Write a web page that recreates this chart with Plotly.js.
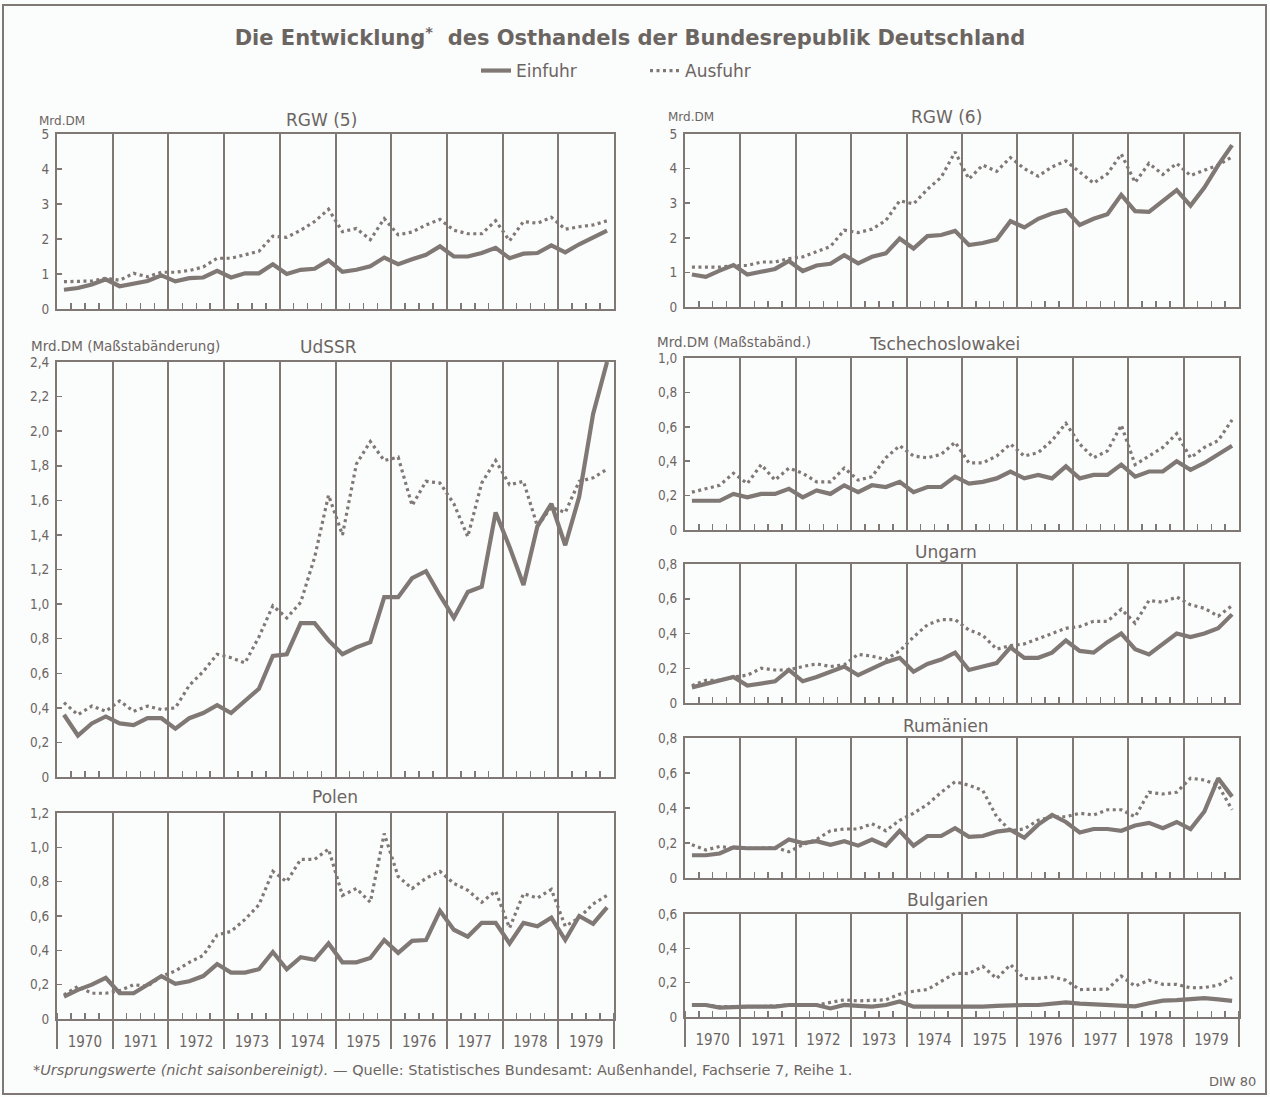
<!DOCTYPE html>
<html><head><meta charset="utf-8">
<script src="https://cdn.plot.ly/plotly-3.0.1.min.js"></script>
<style>html,body{margin:0;padding:0;background:#fbfcfc;}#chart{width:1270px;height:1097px;}</style>
</head><body><div id="chart"></div>
<script>
// ---- categories ----
const years = [1970,1971,1972,1973,1974,1975,1976,1977,1978,1979];
const quarters = ['I','II','III','IV'];
const yearLabels = ['1970','1971','1972','1973','1974','1975','1976','1977','1978','1979'];

// ---- series (Mrd. DM, quarterly) ----
const rgw5_ein = [0.55,0.60,0.70,0.85, 0.65,0.72,0.80,0.96, 0.79,0.88,0.90,1.09, 0.90,1.02,1.02,1.28, 1.00,1.12,1.15,1.39, 1.06,1.12,1.22,1.47, 1.28,1.42,1.55,1.79, 1.50,1.50,1.60,1.75, 1.45,1.58,1.60,1.82, 1.62,1.85,2.05,2.24];
const rgw5_aus = [0.78,0.80,0.80,0.88, 0.82,1.02,0.92,1.05, 1.05,1.10,1.20,1.45, 1.45,1.55,1.65,2.08, 2.05,2.25,2.50,2.85, 2.21,2.30,1.98,2.58, 2.12,2.20,2.40,2.56, 2.25,2.15,2.15,2.52, 1.95,2.50,2.45,2.62, 2.28,2.35,2.40,2.52];
const rgw6_ein = [0.94,0.87,1.05,1.21, 0.94,1.02,1.10,1.33, 1.04,1.20,1.25,1.50, 1.26,1.45,1.55,1.98, 1.69,2.05,2.08,2.20, 1.79,1.85,1.95,2.48, 2.30,2.55,2.70,2.80, 2.37,2.55,2.68,3.24, 2.77,2.75,3.05,3.38, 2.93,3.45,4.10,4.68];
const rgw6_aus = [1.15,1.15,1.15,1.20, 1.20,1.30,1.30,1.40, 1.45,1.60,1.75,2.22, 2.15,2.25,2.50,3.07, 2.98,3.40,3.75,4.48, 3.70,4.10,3.92,4.32, 4.00,3.78,4.05,4.22, 3.90,3.58,3.85,4.42, 3.60,4.15,3.83,4.15, 3.80,3.95,4.10,4.34];
const udssr_ein = [0.36,0.24,0.31,0.35, 0.31,0.30,0.34,0.34, 0.28,0.34,0.37,0.415, 0.37,0.44,0.51,0.70, 0.71,0.89,0.89,0.79, 0.71,0.75,0.78,1.04, 1.04,1.15,1.19,1.05, 0.92,1.07,1.10,1.53, 1.33,1.11,1.45,1.58, 1.34,1.62,2.10,2.40];
const udssr_aus = [0.43,0.36,0.41,0.38, 0.44,0.38,0.41,0.39, 0.40,0.53,0.61,0.71, 0.69,0.66,0.81,0.99, 0.92,1.01,1.27,1.63, 1.40,1.81,1.94,1.83, 1.85,1.57,1.71,1.70, 1.58,1.39,1.70,1.83, 1.69,1.71,1.45,1.56, 1.53,1.71,1.73,1.78];
const polen_ein = [0.13,0.17,0.20,0.24, 0.15,0.15,0.20,0.25, 0.205,0.22,0.25,0.32, 0.27,0.27,0.29,0.39, 0.29,0.36,0.345,0.44, 0.33,0.33,0.355,0.46, 0.385,0.455,0.46,0.63, 0.52,0.48,0.56,0.56, 0.44,0.56,0.54,0.59, 0.46,0.60,0.555,0.65];
const polen_aus = [0.14,0.19,0.15,0.15, 0.165,0.20,0.19,0.25, 0.28,0.33,0.37,0.49, 0.51,0.58,0.665,0.86, 0.80,0.93,0.93,0.99, 0.72,0.76,0.68,1.08, 0.83,0.76,0.82,0.86, 0.79,0.75,0.68,0.745, 0.53,0.73,0.705,0.755, 0.54,0.59,0.67,0.72];
const tsch_ein = [0.17,0.17,0.17,0.21, 0.19,0.21,0.21,0.24, 0.19,0.23,0.21,0.26, 0.22,0.26,0.25,0.28, 0.22,0.25,0.25,0.31, 0.27,0.28,0.30,0.34, 0.30,0.32,0.30,0.37, 0.30,0.32,0.32,0.38, 0.31,0.34,0.34,0.40, 0.35,0.39,0.44,0.49];
const tsch_aus = [0.22,0.24,0.26,0.33, 0.27,0.38,0.29,0.36, 0.33,0.28,0.28,0.36, 0.29,0.31,0.42,0.49, 0.43,0.42,0.44,0.51, 0.39,0.39,0.43,0.50, 0.43,0.45,0.52,0.62, 0.50,0.42,0.46,0.61, 0.38,0.43,0.48,0.56, 0.42,0.48,0.52,0.64];
const ungarn_ein = [0.09,0.11,0.13,0.15, 0.10,0.11,0.125,0.19, 0.125,0.15,0.18,0.21, 0.16,0.20,0.235,0.26, 0.18,0.225,0.25,0.29, 0.19,0.21,0.23,0.32, 0.26,0.26,0.29,0.36, 0.30,0.29,0.35,0.40, 0.31,0.28,0.34,0.40, 0.38,0.40,0.43,0.51];
const ungarn_aus = [0.10,0.13,0.13,0.15, 0.16,0.20,0.19,0.19, 0.21,0.225,0.21,0.22, 0.28,0.27,0.25,0.30, 0.38,0.45,0.48,0.48, 0.42,0.39,0.31,0.33, 0.34,0.37,0.40,0.43, 0.44,0.47,0.47,0.54, 0.46,0.59,0.58,0.61, 0.565,0.545,0.50,0.56];
const rum_ein = [0.13,0.13,0.14,0.175, 0.17,0.17,0.17,0.22, 0.20,0.21,0.19,0.21, 0.185,0.22,0.185,0.27, 0.185,0.24,0.24,0.285, 0.235,0.24,0.265,0.275, 0.23,0.305,0.36,0.32, 0.26,0.28,0.28,0.27, 0.30,0.315,0.285,0.32, 0.28,0.38,0.57,0.465];
const rum_aus = [0.19,0.16,0.18,0.17, 0.17,0.17,0.175,0.15, 0.19,0.22,0.27,0.28, 0.28,0.31,0.27,0.33, 0.37,0.42,0.49,0.55, 0.53,0.50,0.35,0.27, 0.28,0.33,0.35,0.35, 0.37,0.36,0.39,0.39, 0.35,0.49,0.48,0.49, 0.57,0.56,0.53,0.39];
const bulg_ein = [0.07,0.07,0.055,0.06, 0.06,0.06,0.06,0.07, 0.07,0.07,0.05,0.07, 0.065,0.06,0.07,0.09, 0.06,0.06,0.06,0.06, 0.058,0.06,0.065,0.07, 0.07,0.07,0.075,0.085, 0.078,0.075,0.068,0.07, 0.062,0.08,0.095,0.098, 0.105,0.11,0.103,0.094];
const bulg_aus = [0.07,0.07,0.06,0.06, 0.06,0.06,0.065,0.07, 0.07,0.07,0.085,0.10, 0.094,0.095,0.10,0.133, 0.15,0.16,0.205,0.255, 0.253,0.295,0.224,0.305, 0.224,0.225,0.234,0.214, 0.16,0.16,0.162,0.238, 0.18,0.214,0.19,0.19, 0.17,0.172,0.185,0.23];

// ---- tick labels ----
const rgwTickVals = [0,1,2,3,4,5];
const rgwTickText = ['0','1','2','3','4','5'];
const udssrTickVals = [0,0.2,0.4,0.6,0.8,1.0,1.2,1.4,1.6,1.8,2.0,2.2,2.4];
const udssrTickText = ['0','0,2','0,4','0,6','0,8','1,0','1,2','1,4','1,6','1,8','2,0','2,2','2,4'];
const polenTickVals = [0,0.2,0.4,0.6,0.8,1.0,1.2];
const polenTickText = ['0','0,2','0,4','0,6','0,8','1,0','1,2'];
const tschTickVals = [0,0.2,0.4,0.6,0.8,1.0];
const tschTickText = ['0','0,2','0,4','0,6','0,8','1,0'];
const smallTickVals = [0,0.2,0.4,0.6,0.8];
const smallTickText = ['0','0,2','0,4','0,6','0,8'];
const bulgTickVals = [0,0.2,0.4,0.6];
const bulgTickText = ['0','0,2','0,4','0,6'];

// ---- layout helpers ----
const W = 1270, H = 1097;
const C = '#7f7875', TC = '#6b6562';
const px = v => v / W, py = v => 1 - v / H;
const xq = years.flatMap(y => quarters.map((q, i) => y + (i + 0.5) / 4));

const panels = [
  {ein: rgw5_ein, aus: rgw5_aus, xp: [57, 614], yp: [134, 309], ymax: 5, tv: rgwTickVals, tt: rgwTickText, bottom: false},
  {ein: udssr_ein, aus: udssr_aus, xp: [57, 614], yp: [362, 777], ymax: 2.4, tv: udssrTickVals, tt: udssrTickText, bottom: false},
  {ein: polen_ein, aus: polen_aus, xp: [57, 614], yp: [813, 1019], ymax: 1.2, tv: polenTickVals, tt: polenTickText, bottom: true},
  {ein: rgw6_ein, aus: rgw6_aus, xp: [685, 1239], yp: [134, 307], ymax: 5, tv: rgwTickVals, tt: rgwTickText, bottom: false},
  {ein: tsch_ein, aus: tsch_aus, xp: [685, 1239], yp: [358, 530], ymax: 1.0, tv: tschTickVals, tt: tschTickText, bottom: false},
  {ein: ungarn_ein, aus: ungarn_aus, xp: [685, 1239], yp: [564, 703], ymax: 0.8, tv: smallTickVals, tt: smallTickText, bottom: false},
  {ein: rum_ein, aus: rum_aus, xp: [685, 1239], yp: [738, 878], ymax: 0.8, tv: smallTickVals, tt: smallTickText, bottom: false},
  {ein: bulg_ein, aus: bulg_aus, xp: [685, 1239], yp: [914, 1017], ymax: 0.6, tv: bulgTickVals, tt: bulgTickText, bottom: true}
];

const traces = [];
const layout = {
  width: W, height: H,
  margin: {l: 0, r: 0, t: 0, b: 0},
  paper_bgcolor: '#fbfcfc', plot_bgcolor: 'rgba(0,0,0,0)',
  font: {family: 'DejaVu Sans', color: TC},
  showlegend: true,
  title: {
    text: '<b>Die Entwicklung<sup>*</sup>  des Osthandels der Bundesrepublik Deutschland</b>',
    x: 630 / W, xanchor: 'center', y: py(38), yanchor: 'middle',
    font: {family: 'DejaVu Sans', size: 21, color: TC}
  },
  legend: {
    orientation: 'h', x: 476 / W, xanchor: 'left', y: py(71), yanchor: 'middle',
    font: {family: 'DejaVu Sans', size: 17, color: TC},
    entrywidth: 124, entrywidthmode: 'pixels', bgcolor: 'rgba(0,0,0,0)'
  },
  annotations: [], shapes: []
};

panels.forEach((p, k) => {
  const n = k + 1;
  const xid = n === 1 ? 'x' : 'x' + n, yid = n === 1 ? 'y' : 'y' + n;
  const xkey = n === 1 ? 'xaxis' : 'xaxis' + n, ykey = n === 1 ? 'yaxis' : 'yaxis' + n;
  traces.push({x: xq, y: p.ein, xaxis: xid, yaxis: yid, type: 'scatter', mode: 'lines',
    name: 'Einfuhr', showlegend: k === 0, legendrank: 1,
    line: {color: C, width: 4.2}, hoverinfo: 'skip'});
  traces.push({x: xq, y: p.aus, xaxis: xid, yaxis: yid, type: 'scatter', mode: 'lines',
    name: 'Ausfuhr', showlegend: k === 0, legendrank: 2,
    line: {color: C, width: 3.2, dash: '3px,3.5px'}, hoverinfo: 'skip'});
  layout[xkey] = {
    domain: [px(p.xp[0]), px(p.xp[1])], anchor: yid, range: [1970, 1980],
    showline: true, mirror: true, linecolor: C, linewidth: 2,
    showgrid: true, gridcolor: C, gridwidth: 2,
    tickmode: 'linear', tick0: 1970, dtick: 1,
    ticks: p.bottom ? 'outside' : '', ticklen: 28, tickwidth: 2, tickcolor: C,
    showticklabels: false, zeroline: false, fixedrange: true, automargin: false,
    minor: {tick0: 1970, dtick: 0.25, ticks: 'inside', ticklen: 6, tickwidth: 1.5, tickcolor: C, showgrid: false}
  };
  layout[ykey] = {
    domain: [py(p.yp[1]), py(p.yp[0])], anchor: xid, range: [0, p.ymax],
    tickmode: 'array', tickvals: p.tv, ticktext: p.tt,
    ticks: 'inside', ticklen: 5, tickwidth: 1.5, tickcolor: C,
    showline: true, mirror: true, linecolor: C, linewidth: 2,
    showgrid: false, zeroline: false, fixedrange: true, automargin: false,
    ticklabelstandoff: 3,
    tickfont: {family: 'DejaVu Sans Condensed', size: 13.5, color: TC}
  };
});

// year label axes for the bottom panels
[[9, 3], [10, 8]].forEach(([n, base]) => {
  const xb = 'x' + base, yb = 'y' + base;
  traces.push({x: years.map(y => y + 0.5), y: years.map(() => 0), xaxis: 'x' + n, yaxis: yb,
    type: 'scatter', mode: 'markers', marker: {opacity: 0}, showlegend: false, hoverinfo: 'skip'});
  layout['xaxis' + n] = {
    overlaying: xb, anchor: yb, range: [1970, 1980],
    tickmode: 'array', tickvals: years.map(y => y + 0.5), ticktext: yearLabels,
    ticks: 'outside', ticklen: 9, tickcolor: 'rgba(0,0,0,0)',
    showgrid: false, showline: false, zeroline: false, fixedrange: true, automargin: false,
    tickfont: {family: 'DejaVu Sans Condensed', size: 15, color: TC}
  };
});

const ann = (text, x, y, size, anchor, extra) => Object.assign({
  text, x: px(x), y: py(y), xref: 'paper', yref: 'paper', showarrow: false,
  xanchor: anchor || 'center', yanchor: 'middle', font: {family: 'DejaVu Sans', size, color: TC}
}, extra || {});

layout.annotations.push(
  ann('Mrd.DM', 37, 121, 12, 'left'),
  ann('RGW (5)', 321, 120, 17),
  ann('Mrd.DM', 666, 117, 12, 'left'),
  ann('RGW (6)', 946, 117, 17),
  ann('Mrd.DM (Maßstabänderung)', 29, 346, 13.5, 'left'),
  ann('UdSSR', 328, 347, 17),
  ann('Mrd.DM (Maßstabänd.)', 655, 342, 13.5, 'left'),
  ann('Tschechoslowakei', 944, 344, 17),
  ann('Polen', 335, 797, 17),
  ann('Ungarn', 946, 552, 17),
  ann('Rumänien', 946, 726, 17),
  ann('Bulgarien', 947, 900, 17),
  ann('*<i>Ursprungswerte (nicht saisonbereinigt).</i> — Quelle: Statistisches Bundesamt: Außenhandel, Fachserie 7, Reihe 1.', 31, 1070, 14.5, 'left'),
  ann('DIW 80', 1258, 1081, 13, 'right')
);

layout.shapes.push({type: 'rect', xref: 'paper', yref: 'paper', x0: px(3), x1: px(1266), y0: py(1094), y1: py(5),
  line: {color: C, width: 2}, fillcolor: 'rgba(0,0,0,0)', layer: 'below'});

Plotly.newPlot('chart', traces, layout, {staticPlot: true, displayModeBar: false});
</script>
</body></html>
